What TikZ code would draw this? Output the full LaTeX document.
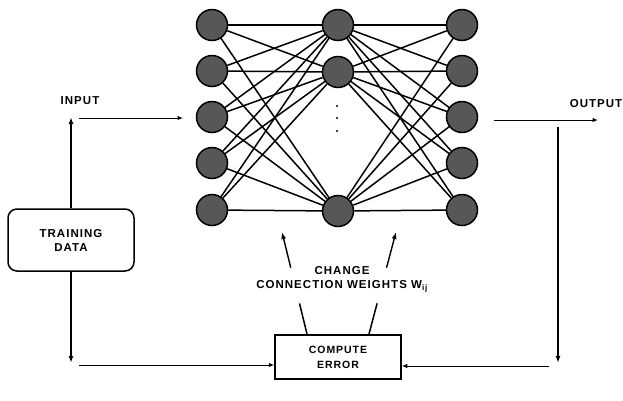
\documentclass[tikz,border=0pt]{standalone}
\usepackage{fontspec}
\newfontfamily\labelfont{Liberation Sans}[LetterSpace=9]
\usetikzlibrary{arrows.meta,calc}
\begin{document}
\begin{tikzpicture}[x=1pt,y=-1pt,
  unit/.style={circle,draw,line width=1.5pt,fill=black!66,minimum size=31pt,inner sep=0pt},
  link/.style={line width=1.5pt},
  arr/.style={line width=1.4pt,-{Latex[length=7pt,width=5pt]}},
  thinarr/.style={line width=1pt,-{Latex[length=5.5pt,width=4.5pt]}},
  lab/.style={font=\labelfont\bfseries\fontsize{11.5}{14}\selectfont,align=center,inner sep=0pt},
  box/.style={draw,line width=1.5pt,align=center,inner sep=0pt}]
\useasboundingbox (0,0) rectangle (623,400);
\fill[white] (0,0) rectangle (623,400);

% layers of the network
\foreach \i/\y in {1/25,2/71,3/117,4/163,5/210} {
  \node[unit] (l\i) at (212,\y) {};
  \node[unit] (r\i) at (462,\y) {};
}
\node[unit] (m1) at (338,25) {};
\node[unit] (m2) at (338,72) {};
\node[unit] (m3) at (338,211) {};
\foreach \y in {106,118,131} \fill (337,\y) circle (1.2pt);

% full connections between layers
\foreach \i in {1,...,5} \foreach \j in {1,2,3} {
  \draw[link] (l\i) -- (m\j);
  \draw[link] (m\j) -- (r\i);
}

% blocks
\node[box,rounded corners=9pt,minimum width=126pt,minimum height=62pt,
  font=\labelfont\bfseries\fontsize{11.5}{14}\selectfont] (train) at (71,240) {TRAINING\\DATA};
\node[box,minimum width=126pt,minimum height=44pt,
  font=\labelfont\bfseries\fontsize{10.5}{15}\selectfont] (err) at (338,357) {COMPUTE\\ERROR};

% labels
\node[lab] (inlab) at (80,101) {INPUT};
\node[lab] (outlab) at (596,104) {OUTPUT};
\node[lab] (chg) at (342,279) {CHANGE\\CONNECTION WEIGHTS W\textsubscript{ij}};

% input side
\coordinate (inUp) at (71,117);
\draw[arr] (train.north) -- (inUp);
\coordinate (inA) at (79,118);
\coordinate (inB) at (183,118);
\draw[thinarr] (inA) -- (inB);

% output side
\coordinate (oA) at (494,120);
\coordinate (oB) at (598,120);
\draw[thinarr] (oA) -- (oB);
\coordinate (oV) at (558,127);
\coordinate (oVb) at (558,363);
\draw[arr] (oV) -- (oVb);

% error feedback
\coordinate (bL) at (71,363);
\draw[arr] (train.south) -- (bL);
\coordinate (hL) at (79,365);
\draw[thinarr] (hL) -- (hL -| err.west);
\coordinate (hR) at (549,366);
\draw[thinarr] (hR) -- (hR -| err.east);

% weight update arrows
\coordinate (ca1) at (307,334);
\coordinate (cb1) at (282,232);
\coordinate (ca2) at (369,334);
\coordinate (cb2) at (396,232);
\draw[link] (ca1) -- ($(ca1)!0.3!(cb1)$);
\draw[arr] ($(ca1)!0.65!(cb1)$) -- (cb1);
\draw[link] (ca2) -- ($(ca2)!0.3!(cb2)$);
\draw[arr] ($(ca2)!0.65!(cb2)$) -- (cb2);
\end{tikzpicture}
\end{document}
